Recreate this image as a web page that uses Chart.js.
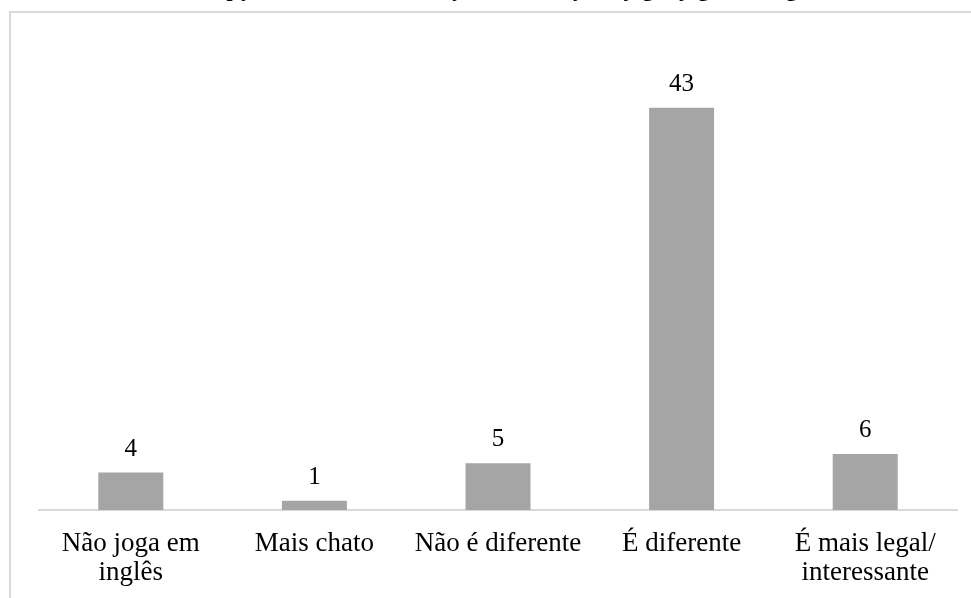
<!DOCTYPE html>
<html>
<head>
<meta charset="utf-8">
<script src="https://cdn.jsdelivr.net/npm/chart.js@4"></script>
<style>
  body { margin: 0; background: #fff; overflow: hidden; }
  #wrap { position: relative; width: 971px; height: 598px; overflow: hidden; }
  #frame { position: absolute; left: 9px; top: 11px; width: 1100px; height: 800px; border: 2px solid #d9d9d9; }
  #chart { position: absolute; left: 0; top: -30px; }
</style>
</head>
<body>
<div id="wrap">
  <div id="frame"></div>
  <canvas id="chart" width="971" height="628"></canvas>
</div>
<script>
// Chart data
const titleText = 'Percepção dos alunos em relação à diferença de jogar jogos em inglês';
const categories = [
    ['Não joga em', 'inglês'],
    'Mais chato',
    'Não é diferente',
    'É diferente',
    ['É mais legal/', 'interessante']
];
const answers = [4, 1, 5, 43, 6];

const serif = '"Liberation Serif", "Times New Roman", serif';

// draws the number above each bar
const valueLabels = {
    id: 'valueLabels',
    afterDatasetsDraw(chart) {
        const ctx = chart.ctx;
        const meta = chart.getDatasetMeta(0);
        ctx.save();
        ctx.font = '25px ' + serif;
        ctx.fillStyle = '#000';
        ctx.textAlign = 'center';
        ctx.textBaseline = 'alphabetic';
        meta.data.forEach((bar, i) => {
            ctx.fillText(String(answers[i]), bar.x, bar.y - 17);
        });
        ctx.restore();
    }
};

const ctx = document.getElementById('chart').getContext('2d');
new Chart(ctx, {
    type: 'bar',
    data: {
        labels: categories,
        datasets: [{
            data: answers,
            backgroundColor: '#a5a5a5',
            borderWidth: 0,
            categoryPercentage: 1,
            barPercentage: 0.354
        }]
    },
    options: {
        responsive: false,
        animation: false,
        devicePixelRatio: 1,
        layout: { padding: { top: 7, left: 39, right: 14, bottom: 0 } },
        plugins: {
            legend: { display: false },
            tooltip: { enabled: false },
            title: {
                display: true,
                text: titleText,
                color: '#000',
                font: { family: serif, size: 22, weight: 'bold' },
                padding: { top: 0, bottom: 39 }
            }
        },
        scales: {
            x: {
                grid: { display: false, drawTicks: false },
                border: { display: true, color: '#d9d9d9', width: 2 },
                ticks: {
                    color: '#000',
                    padding: 19,
                    maxRotation: 0,
                    autoSkip: false,
                    font: { family: serif, size: 27, lineHeight: 1.08 }
                },
                afterFit(scale) { scale.height = 88; }
            },
            y: {
                display: false,
                min: 0,
                max: 50
            }
        }
    },
    plugins: [valueLabels]
});
</script>
</body>
</html>
